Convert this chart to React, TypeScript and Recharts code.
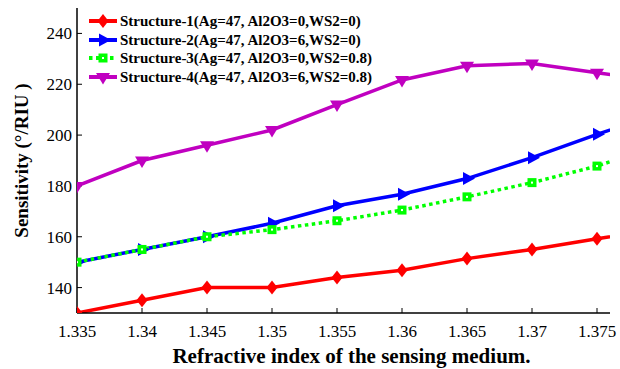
import { LineChart, Line, XAxis, YAxis, Legend } from "recharts";

// refractive index of the sensing medium (last point lies past the right frame and is clipped)
const refractiveIndex = [1.335, 1.34, 1.345, 1.35, 1.355, 1.36, 1.365, 1.37, 1.375, 1.38];
const xTicks = [1.335, 1.34, 1.345, 1.35, 1.355, 1.36, 1.365, 1.37, 1.375];
const yTicks = [140, 160, 180, 200, 220, 240];

const structure1 = [130, 135, 140, 140, 144, 146.8, 151.4, 155, 159.2, 163.2];
const structure2 = [150, 155, 160, 165.3, 172.2, 176.7, 182.9, 191.1, 200.3, 208.8];
const structure3 = [150, 155, 160, 162.8, 166.3, 170.5, 175.7, 181.3, 187.8, 196.3];
const structure4 = [180, 190, 196, 202, 212, 221.7, 227.3, 228.2, 224.5, 221];

const seriesNames = [
  "Structure-1(Ag=47, Al2O3=0,WS2=0)",
  "Structure-2(Ag=47, Al2O3=6,WS2=0)",
  "Structure-3(Ag=47, Al2O3=0,WS2=0.8)",
  "Structure-4(Ag=47, Al2O3=6,WS2=0.8)",
];
const seriesKeys = ["s1", "s2", "s3", "s4"];
const seriesColors = ["#ff0000", "#0000ff", "#00ff00", "#c000c0"];

const data = refractiveIndex.map((x, i) => ({
  x,
  s1: structure1[i],
  s2: structure2[i],
  s3: structure3[i],
  s4: structure4[i],
}));

const FONT = '"Liberation Serif", "Times New Roman", serif';

function Marker({ kind, cx, cy, color }: { kind: number; cx: number; cy: number; color: string }) {
  if (kind === 0) {
    return <polygon points={`${cx},${cy - 7} ${cx + 5.5},${cy} ${cx},${cy + 7} ${cx - 5.5},${cy}`} fill={color} />;
  }
  if (kind === 1) {
    return <polygon points={`${cx - 4},${cy - 6.5} ${cx + 8},${cy} ${cx - 4},${cy + 6.5}`} fill={color} />;
  }
  if (kind === 2) {
    return (
      <g>
        <rect x={cx - 4.5} y={cy - 4.5} width={9} height={9} fill={color} />
        <rect x={cx - 1} y={cy - 1} width={2} height={2} fill="#ffffff" />
      </g>
    );
  }
  return <polygon points={`${cx - 7},${cy - 4} ${cx + 7},${cy - 4} ${cx},${cy + 7.5}`} fill={color} />;
}

function makeDot(kind: number, color: string) {
  return (props: any) => {
    const { cx, cy, index } = props;
    if (cx == null || cy == null) return <g key={`e-${kind}-${index}`} />;
    return <Marker key={`m-${kind}-${index}`} kind={kind} cx={cx} cy={cy} color={color} />;
  };
}

function LegendBox() {
  return (
    <div style={{ fontFamily: FONT, fontWeight: "bold", fontSize: 15, lineHeight: "18.5px" }}>
      {seriesNames.map((name, i) => (
        <div key={name} style={{ display: "flex", alignItems: "center", height: 18.5, whiteSpace: "nowrap" }}>
          <svg width={32} height={18} style={{ display: "block" }}>
            <line
              x1={1}
              y1={9}
              x2={29}
              y2={9}
              stroke={seriesColors[i]}
              strokeWidth={4}
              strokeDasharray={i === 2 ? "3.5 3.5" : undefined}
            />
            <Marker kind={i} cx={15} cy={9} color={seriesColors[i]} />
          </svg>
          <span style={{ color: "#000" }}>{name}</span>
        </div>
      ))}
    </div>
  );
}

export default function App() {
  const tickStyle = { fill: "#000", fontSize: 17, style: { fontFamily: FONT } };
  return (
    <div
      style={{
        position: "absolute",
        left: 0,
        top: 0,
        width: 620,
        height: 369,
        background: "#fff",
        fontFamily: FONT,
      }}
    >
      <LineChart width={620} height={369} data={data} margin={{ top: 8, right: 10, bottom: 0, left: 0 }}>
        <XAxis
          xAxisId="bottom"
          dataKey="x"
          type="number"
          domain={[1.335, 1.376]}
          allowDataOverflow
          ticks={xTicks}
          interval={0}
          height={56}
          tickSize={-5}
          tickMargin={17}
          tick={tickStyle}
          axisLine={{ stroke: "#000", strokeWidth: 1.5 }}
          tickLine={{ stroke: "#000", strokeWidth: 1 }}
          label={{
            value: "Refractive index of the sensing medium.",
            position: "insideBottom",
            offset: 6,
            dx: 8,
            style: { fontFamily: FONT, fontWeight: "bold", fontSize: 21, fill: "#000" },
          }}
        />
        <XAxis
          xAxisId="top"
          orientation="top"
          dataKey="x"
          type="number"
          domain={[1.335, 1.376]}
          allowDataOverflow
          ticks={xTicks}
          height={0}
          tickSize={-5}
          tick={false}
          axisLine={{ stroke: "#000", strokeWidth: 1.5 }}
          tickLine={{ stroke: "#000", strokeWidth: 1 }}
        />
        <YAxis
          yAxisId="left"
          type="number"
          domain={[130, 250]}
          allowDataOverflow
          ticks={yTicks}
          interval={0}
          width={77}
          tickSize={-5}
          tickMargin={10}
          tick={tickStyle}
          axisLine={{ stroke: "#000", strokeWidth: 1.5 }}
          tickLine={{ stroke: "#000", strokeWidth: 1 }}
          label={{
            value: "Sensitivity (°/RIU )",
            angle: -90,
            position: "center",
            dx: -17,
            style: { fontFamily: FONT, fontWeight: "bold", fontSize: 19, fill: "#000", textAnchor: "middle" },
          }}
        />
        <YAxis
          yAxisId="right"
          orientation="right"
          type="number"
          domain={[130, 250]}
          allowDataOverflow
          ticks={yTicks}
          width={0}
          tickSize={-5}
          tick={false}
          axisLine={{ stroke: "#000", strokeWidth: 1.5 }}
          tickLine={{ stroke: "#000", strokeWidth: 1 }}
        />
        <Legend
          layout="vertical"
          align="center"
          verticalAlign="middle"
          content={() => <LegendBox />}
          wrapperStyle={{ left: 88, top: 12, width: 300, height: 76 }}
        />
        {seriesKeys.map((key, i) => (
          <Line
            key={key}
            xAxisId="bottom"
            yAxisId="left"
            type="linear"
            dataKey={key}
            name={seriesNames[i]}
            stroke={seriesColors[i]}
            strokeWidth={3.5}
            strokeDasharray={i === 2 ? "3.5 3.5" : undefined}
            dot={makeDot(i, seriesColors[i])}
            activeDot={false}
            isAnimationActive={false}
          />
        ))}
      </LineChart>
    </div>
  );
}
